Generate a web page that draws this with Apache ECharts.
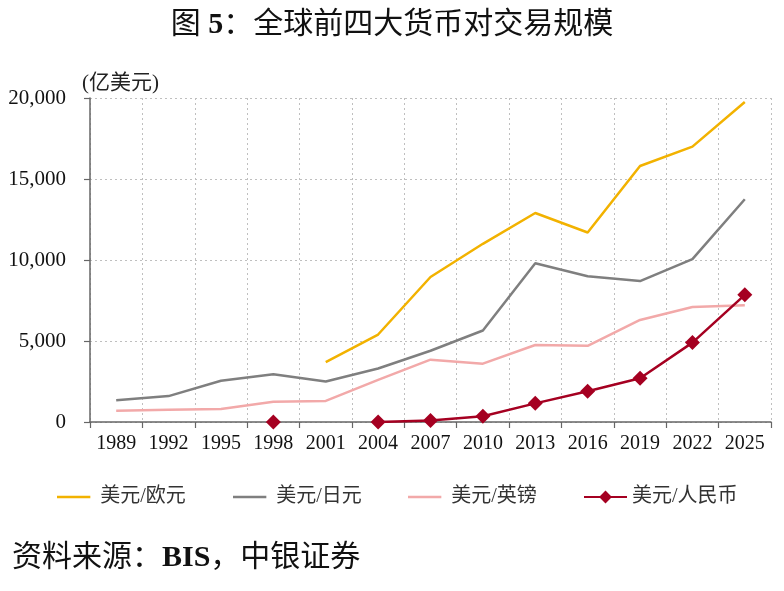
<!DOCTYPE html>
<html>
<head>
<meta charset="utf-8">
<script src="https://cdn.jsdelivr.net/npm/echarts@6/dist/echarts.min.js"></script>
<style>
html,body{margin:0;padding:0;background:#fff;}
#chart{width:784px;height:591px;}
</style>
</head>
<body>
<div id="chart"></div>
<script>
var categories = ['1989','1992','1995','1998','2001','2004','2007','2010','2013','2016','2019','2022','2025'];
var seriesNames = ['美元/欧元','美元/日元','美元/英镑','美元/人民币'];
var usdEur = [null,null,null,null,3700,5400,8950,11000,12900,11700,15800,17000,19750];
var usdJpy = [1350,1600,2550,2950,2500,3300,4400,5650,9800,9000,8700,10050,13750];
var usdGbp = [700,750,800,1250,1300,2600,3850,3600,4750,4700,6300,7100,7200];
var usdCny = [null,null,null,0,null,0,100,350,1150,1900,2700,4900,7850];
var yTicks = [0,5000,10000,15000,20000];

var SERIF = '"Liberation Serif","Noto Sans CJK SC",serif';
var chart = echarts.init(document.getElementById('chart'), null, {renderer:'canvas'});

var LINE_ICON = 'path://M0,0L40,0L40,3L0,3Z';
function legendAt(name, left, isLine){
  return {
    data:[isLine ? {name:name, icon:LINE_ICON} : {name:name}],
    left:left, top:482,
    itemWidth:43, itemHeight:isLine ? 2.5 : 16, itemGap:8,
    textStyle:{fontFamily:SERIF, fontSize:20, color:'#333'}
  };
}

var option = {
  backgroundColor:'#ffffff',
  animation:false,
  title:{
    text:'{a|图 }{b|5}{a|：全球前四大货币对交易规模}',
    left:'center', top:5,
    textStyle:{
      fontWeight:'normal',
      rich:{
        a:{fontFamily:SERIF, fontSize:30, fontWeight:'normal', color:'#111'},
        b:{fontFamily:SERIF, fontSize:30, fontWeight:'bold', color:'#111'}
      }
    }
  },
  legend:[
    legendAt(seriesNames[0],52,true),
    legendAt(seriesNames[1],228,true),
    legendAt(seriesNames[2],403,true),
    legendAt(seriesNames[3],578,false)
  ],
  graphic:[
    {type:'text', left:82, top:73, style:{text:'(亿美元)', font:'21px '+SERIF, fill:'#222'}},
    {type:'text', left:12, top:543, style:{
      text:'{a|资料来源：}{b|BIS}{a|，中银证券}',
      rich:{
        a:{font:'30px '+SERIF, fill:'#111'},
        b:{font:'bold 30px '+SERIF, fill:'#111'}
      }
    }}
  ],
  grid:{left:90, right:13, top:98, bottom:169, containLabel:false},
  xAxis:{
    type:'category', data:categories, boundaryGap:true,
    axisLine:{show:true, lineStyle:{color:'#666', width:1.5}},
    axisTick:{show:true, alignWithLabel:false, length:6, lineStyle:{color:'#666', width:1.2}},
    axisLabel:{fontFamily:SERIF, fontSize:20, color:'#111', margin:12, interval:0},
    splitLine:{show:true, interval:0, lineStyle:{color:'#BFBFBF', type:[2,3], width:1}}
  },
  yAxis:{
    type:'value', min:yTicks[0], max:yTicks[yTicks.length-1], interval:yTicks[1]-yTicks[0],
    axisLine:{show:true, lineStyle:{color:'#666', width:1.5}},
    axisTick:{show:true, length:6, lineStyle:{color:'#666', width:1.2}},
    axisLabel:{fontFamily:SERIF, fontSize:21, color:'#111', margin:24,
      formatter:function(v){return v.toLocaleString('en-US');}},
    splitLine:{show:true, lineStyle:{color:'#BFBFBF', type:[2,3], width:1}}
  },
  series:[
    {name:seriesNames[0], type:'line', data:usdEur, symbol:'none', lineStyle:{color:'#F2B200', width:2.5}, itemStyle:{color:'#F2B200'}, connectNulls:false},
    {name:seriesNames[1], type:'line', data:usdJpy, symbol:'none', lineStyle:{color:'#7F7F7F', width:2.5}, itemStyle:{color:'#7F7F7F'}},
    {name:seriesNames[2], type:'line', data:usdGbp, symbol:'none', lineStyle:{color:'#F2A9A9', width:2.5}, itemStyle:{color:'#F2A9A9'}},
    {name:seriesNames[3], type:'line', data:usdCny, symbol:'diamond', symbolSize:15, showSymbol:true, connectNulls:false,
      lineStyle:{color:'#A50021', width:2.5}, itemStyle:{color:'#A50021'}}
  ]
};
chart.setOption(option);
</script>
</body>
</html>
